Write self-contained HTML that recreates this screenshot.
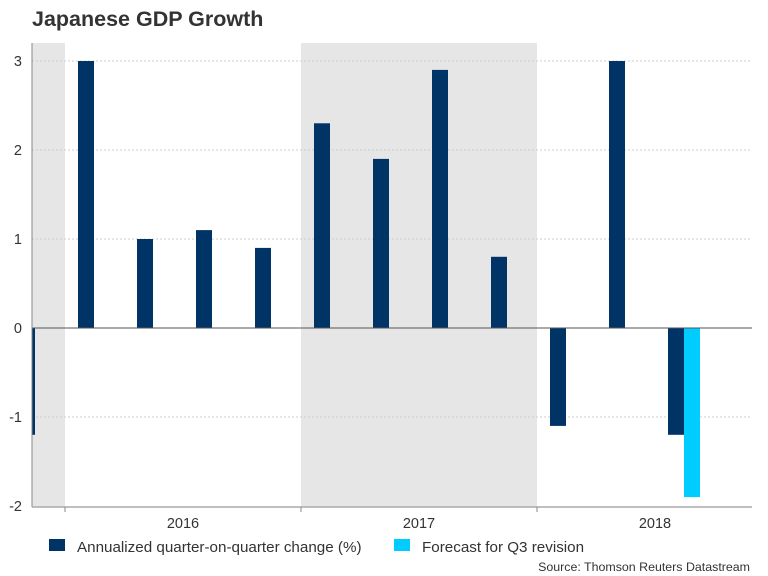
<!DOCTYPE html>
<html><head><meta charset="utf-8"><style>
body{margin:0;background:#fff;}
svg{display:block;font-family:"Liberation Sans",Arial,sans-serif;}
</style></head><body>
<svg id="c" width="768" height="576">
<defs><clipPath id="pc"><rect x="32" y="40" width="722" height="470"/></clipPath></defs>
<text x="32" y="26" font-size="21.5" font-weight="bold" fill="#333">Japanese GDP Growth</text>
<g id="shade"></g>
<g id="grid"></g>
<g id="bars" clip-path="url(#pc)"></g>
<g id="axes"></g>
<g>
<rect x="49" y="539" width="16" height="12" fill="#003366"/>
<text x="77" y="552" font-size="15.2" fill="#333">Annualized quarter-on-quarter change (%)</text>
<rect x="394" y="539" width="16" height="12" fill="#00ccff"/>
<text x="422" y="552" font-size="15.2" fill="#333">Forecast for Q3 revision</text>
</g>
<text x="750" y="571" font-size="12.4" fill="#333" text-anchor="end">Source: Thomson Reuters Datastream</text>
</svg>
<script>
const quarters=["2015Q4","2016Q1","2016Q2","2016Q3","2016Q4","2017Q1","2017Q2","2017Q3","2017Q4","2018Q1","2018Q2","2018Q3"];
const actual=[-1.2,3.0,1.0,1.1,0.9,2.3,1.9,2.9,0.8,-1.1,3.0,-1.2];
const forecast=[null,null,null,null,null,null,null,null,null,null,null,-1.9];
const years=["2016","2017","2018"];
const yTicks=[3,2,1,0,-1,-2];
const NS="http://www.w3.org/2000/svg";
const y=v=>328-v*89;
const xc=i=>27+59*i;
const yearStart=k=>65+236*k;
function mk(t,a,p){const e=document.createElementNS(NS,t);for(const k in a)e.setAttribute(k,a[k]);p.appendChild(e);return e;}
const sh=document.getElementById('shade'),gr=document.getElementById('grid'),br=document.getElementById('bars'),ax=document.getElementById('axes');
let s=mk('rect',{x:32,y:43,width:33,height:464,fill:'#e6e6e6'},sh);


s=mk('rect',{x:yearStart(1),y:43,width:236,height:464,fill:'#e6e6e6'},sh);


yTicks.forEach(v=>{
 if(v!==0&&v!==-2){const l=mk('line',{x1:32,x2:752,y1:y(v),y2:y(v),stroke:'#ccc','stroke-dasharray':'2,2'},gr);
 
 }
 const t=mk('text',{x:22,y:y(v)+5,'font-size':14.5,fill:'#333','text-anchor':'end'},ax);t.textContent=v;
 
 
});
actual.forEach((v,i)=>{
 const b=mk('rect',{x:xc(i)-8,y:Math.min(y(v),y(0)),width:16,height:Math.abs(y(v)-y(0)),fill:'#003366'},br);
 
 
});
forecast.forEach((v,i)=>{
 if(v===null)return;
 const b=mk('rect',{x:xc(i)+8,y:Math.min(y(v),y(0)),width:16,height:Math.abs(y(v)-y(0)),fill:'#00ccff'},br);
 
 
});
let a=mk('line',{x1:32,x2:752,y1:y(0),y2:y(0),stroke:'#555','stroke-width':1},ax);


a=mk('line',{x1:32,x2:32,y1:43,y2:507,stroke:'#888'},ax);


a=mk('line',{x1:32,x2:752,y1:507,y2:507,stroke:'#aaa','stroke-width':1.5},ax);


years.forEach((yr,k)=>{
 const tk=mk('line',{x1:yearStart(k),x2:yearStart(k),y1:507,y2:512,stroke:'#888'},ax);
 
 
 const t=mk('text',{x:yearStart(k)+118,y:528,'font-size':14.5,fill:'#333','text-anchor':'middle'},ax);t.textContent=yr;
 
 
});
const tk=mk('line',{x1:yearStart(3),x2:yearStart(3),y1:507,y2:512,stroke:'#888'},ax);


</script>
</body></html>
